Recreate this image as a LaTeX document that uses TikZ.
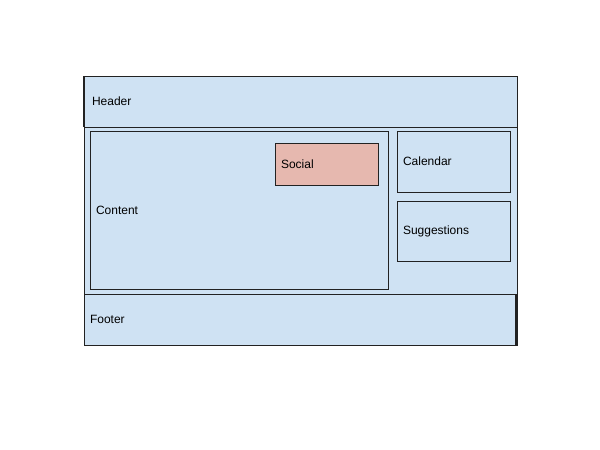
\documentclass[tikz,border=0pt]{standalone}
\usepackage{fontspec}
\setmainfont{Liberation Sans}
\usepackage{xcolor}
\usetikzlibrary{positioning}
\definecolor{Pane}{HTML}{CFE2F3}
\definecolor{Rose}{HTML}{E6B8AF}
\definecolor{Edge}{HTML}{222222}
\newcommand{\LayBox}[7]{%
  \pgfmathsetmacro{\tw}{#5-12}%
  \node[laybox,fill=#2,minimum width=#5pt,minimum height=#6pt,text width=\tw pt] (#1) at (#3,#4) {#7};%
}

\begin{document}
\begin{tikzpicture}[x=1pt,y=-1pt,
  laybox/.style={draw=Edge,line width=1pt,anchor=north west,align=left,
    inner xsep=6pt,inner ysep=0pt,outer sep=0pt,
    font=\fontsize{12}{14}\selectfont}]
\useasboundingbox (0,0) rectangle (600,450);
\LayBox{page}{Pane}{84}{76}{433}{269}{}
\LayBox{hdr}{Pane}{84}{76}{433}{51}{\hspace*{2pt}Header}
\LayBox{ftr}{Pane}{84}{294}{432}{51}{Footer}
\LayBox{cnt}{Pane}{90}{131}{298}{158}{Content}
\LayBox{soc}{Rose}{275}{143}{103}{42}{Social}
\LayBox{cal}{Pane}{397}{131}{113}{61}{Calendar}
\LayBox{sug}{Pane}{397}{201}{113}{60}{Suggestions}
% heavier edges
\draw[Edge,line width=2.5pt] (hdr.north west) -- (hdr.south west);
\draw[Edge,line width=2.5pt] (ftr.north east) -- (ftr.south east);
\end{tikzpicture}
\end{document}
